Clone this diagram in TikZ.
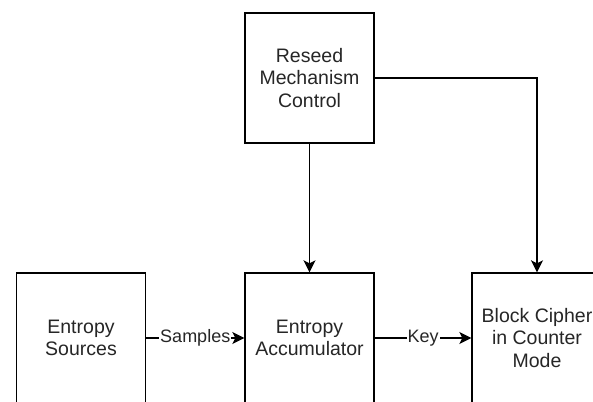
\documentclass[tikz,border=0pt]{standalone}
\usepackage{fontspec}
\setmainfont{Liberation Sans}
\usetikzlibrary{arrows.meta}
\begin{document}
\begin{tikzpicture}[x=1pt,y=1pt,
  blk/.style={draw=black, line width=1.4pt, minimum width=129pt, minimum height=130pt, inner sep=0pt,
    align=center, font=\fontsize{19.5}{22.5}\selectfont, text=black!85},
  conn/.style={draw=black, line width=1.4pt, -{Stealth[length=12pt,width=12pt,inset=3pt]}},
  lbl/.style={fill=white, inner sep=1pt, font=\fontsize{18}{22}\selectfont, text=black!85}]
\useasboundingbox (0,0) rectangle (593,-401);
\fill[white] (0,0) rectangle (593,-401);
\node[blk] (reseed) at (309.5,-78) {Reseed\\Mechanism\\Control};
\node[blk] (src) at (81,-338) {Entropy\\Sources};
\node[blk] (acc) at (309.5,-338) {Entropy\\Accumulator};
\node[blk, minimum width=130pt] (bc) at (537,-338) {Block Cipher\\in Counter\\Mode};
\draw[conn] (reseed.south) -- (acc.north);
\draw[conn] (reseed.east) -| (bc.north);
\draw[conn] (src.east) -- node[lbl] {Samples} (acc.west);
\draw[conn] (acc.east) -- node[lbl] {Key} (bc.west);
\end{tikzpicture}
\end{document}
